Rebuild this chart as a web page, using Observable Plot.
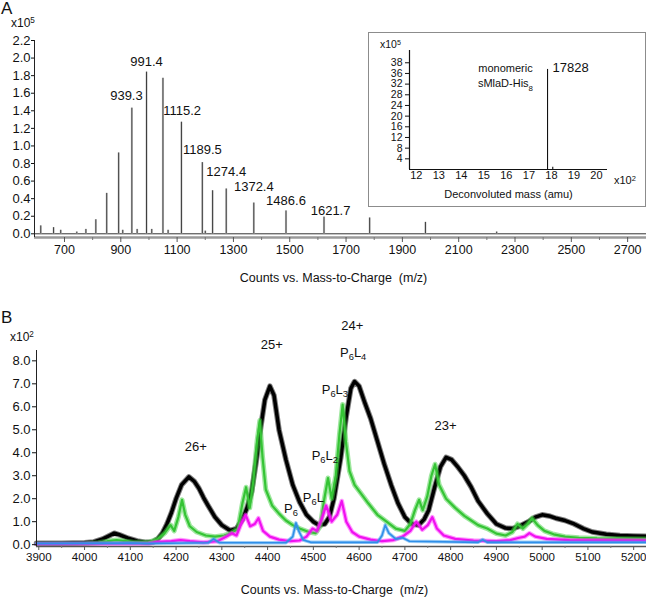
<!DOCTYPE html>
<html><head><meta charset="utf-8">
<script src="https://cdn.jsdelivr.net/npm/d3@7"></script>
<script src="https://cdn.jsdelivr.net/npm/@observablehq/plot@0.6"></script>
<style>
html,body{margin:0;padding:0;background:#fff;}
#wrap{position:relative;width:646px;height:600px;overflow:hidden;font-family:"Liberation Sans",Arial,Helvetica,sans-serif;color:#111;}
.panel{position:absolute;left:0;}
.lbl{position:absolute;line-height:1.1;white-space:nowrap;}
.sup{position:relative;top:-0.45em;font-size:0.68em;}
#inset{position:absolute;left:368px;top:32px;width:276px;height:173px;border:1px solid #8c8c8c;background:#fff;}
</style></head><body>
<div id="wrap">
  <div id="pa" class="panel" style="top:0"></div>
  <div id="pb" class="panel" style="top:300px"></div>
  <div id="inset"></div>
  <div class="lbl" style="left:1px;top:0px;font-size:17px">A</div>
  <div class="lbl" style="left:11px;top:17px;font-size:12px">x10<span class="sup">5</span></div>
  <div class="lbl" style="left:380px;top:39px;font-size:10.5px">x10<span class="sup">5</span></div>
  <div class="lbl" style="left:614px;top:174px;font-size:11px">x10<span class="sup">2</span></div>
  <div class="lbl" style="left:1px;top:309px;font-size:17px">B</div>
  <div class="lbl" style="left:10px;top:331px;font-size:12px">x10<span class="sup">2</span></div>
</div>
<script>
// ---------- Panel A data (intensity in units of 10^5 counts) ----------
const spectrumMz = [615.8, 661.3, 686.7, 743.8, 776.1, 811.4, 850.0, 892.4, 907, 939.3, 958, 991.4, 1010, 1049.7, 1068, 1115.3, 1189.5, 1200, 1226, 1274.4, 1372.4, 1486.7, 1621.7, 1783.8, 1981.9, 2235];
const spectrumIntensity = [0.09, 0.07, 0.04, 0.02, 0.05, 0.16, 0.46, 0.92, 0.04, 1.43, 0.05, 1.84, 0.05, 1.77, 0.04, 1.27, 0.81, 0.03, 0.49, 0.51, 0.35, 0.26, 0.19, 0.18, 0.13, 0.02];
const peakLabelText = ["939.3", "991.4", "1115.2", "1189.5", "1274.4", "1372.4", "1486.6", "1621.7"];
// label anchor points (m/z, intensity) where each label is centred
const peakLabelMz = [920, 991.4, 1118, 1189.5, 1274.4, 1372.4, 1486.6, 1645];
const peakLabelIntensity = [1.573, 1.96, 1.403, 0.956, 0.70, 0.53, 0.37, 0.265];
const xTicksA = [700, 900, 1100, 1300, 1500, 1700, 1900, 2100, 2300, 2500, 2700];
const xMinorA = [800, 1000, 1200, 1400, 1600, 1800, 2000, 2200, 2400, 2600];
const yTicksA = [0, 0.2, 0.4, 0.6, 0.8, 1.0, 1.2, 1.4, 1.6, 1.8, 2.0, 2.2];
const titleX = "Counts vs. Mass-to-Charge \u00a0(m/z)";

// ---------- Inset data (mass axis in units of the x10^2 axis, intensity x10^5) ----------
const insetMass = [17.828, 18.06];
const insetIntensity = [37.5, 0.8];
const insetXTicks = [12, 13, 14, 15, 16, 17, 18, 19, 20];
const insetYTicks = [4, 8, 12, 16, 20, 24, 28, 32, 36, 40];
const insetYTickLabels = ["4", "8", "12", "16", "20", "24", "28", "32", "36", "38"];

// ---------- Panel B data (counts in units of 10^2) ----------
const blackMz = [3895, 3950, 4000, 4020, 4040, 4055, 4065, 4078, 4095, 4115, 4135, 4150, 4160, 4170, 4180, 4190, 4200, 4212, 4228, 4240, 4250, 4260, 4270, 4285, 4300, 4318, 4332, 4345, 4355, 4365, 4375, 4385, 4394, 4405, 4414, 4425, 4440, 4455, 4470, 4485, 4500, 4512, 4525, 4535, 4545, 4560, 4572, 4582, 4590, 4600, 4612, 4625, 4640, 4655, 4670, 4685, 4700, 4715, 4730, 4742, 4752, 4765, 4778, 4790, 4802, 4815, 4830, 4845, 4860, 4880, 4900, 4920, 4935, 4950, 4970, 4985, 5000, 5015, 5030, 5050, 5070, 5090, 5110, 5140, 5170, 5200, 5228];
const blackCounts = [0.06, 0.06, 0.08, 0.12, 0.25, 0.4, 0.5, 0.42, 0.28, 0.16, 0.1, 0.12, 0.25, 0.5, 0.9, 1.4, 2.0, 2.6, 2.95, 2.75, 2.45, 2.05, 1.7, 1.2, 0.85, 0.62, 0.7, 1.1, 1.6, 2.3, 3.6, 5.1, 6.3, 6.9, 6.5, 5.0, 3.7, 2.6, 1.85, 1.3, 1.0, 0.85, 0.9, 1.2, 2.0, 3.8, 5.6, 6.8, 7.1, 6.9, 6.2, 5.5, 4.5, 3.5, 2.6, 1.8, 1.2, 0.9, 0.85, 1.1, 1.5, 2.5, 3.4, 3.8, 3.7, 3.4, 3.0, 2.5, 1.9, 1.35, 0.9, 0.72, 0.7, 0.8, 1.0, 1.2, 1.3, 1.25, 1.15, 1.05, 0.9, 0.7, 0.55, 0.45, 0.4, 0.38, 0.36];
const greenMz = [3895, 4000, 4030, 4050, 4070, 4090, 4110, 4140, 4160, 4175, 4188, 4196, 4205, 4213, 4220, 4230, 4245, 4265, 4285, 4305, 4320, 4335, 4345, 4353, 4361, 4369, 4377, 4383, 4389, 4396, 4410, 4425, 4440, 4455, 4470, 4490, 4505, 4515, 4524, 4532, 4540, 4549, 4557, 4564, 4571, 4579, 4590, 4605, 4620, 4640, 4660, 4680, 4700, 4712, 4722, 4731, 4739, 4749, 4758, 4766, 4775, 4790, 4810, 4830, 4845, 4860, 4880, 4900, 4920, 4935, 4946, 4958, 4968, 4978, 4990, 5005, 5025, 5050, 5080, 5120, 5160, 5228];
const greenCounts = [0.03, 0.04, 0.08, 0.15, 0.2, 0.15, 0.1, 0.1, 0.25, 0.5, 0.85, 0.6, 1.2, 1.95, 1.3, 0.8, 0.55, 0.4, 0.35, 0.4, 0.5, 0.7, 1.8, 2.5, 1.6, 2.8, 4.5, 5.4, 3.8, 2.4, 1.7, 1.35, 1.05, 0.85, 0.7, 0.55, 0.5, 0.8, 2.0, 2.9, 2.0, 3.0, 4.8, 6.1, 4.5, 3.2, 2.6, 2.2, 1.8, 1.3, 1.0, 0.7, 0.6, 0.9, 1.5, 1.95, 1.5, 2.1, 3.0, 3.5, 2.6, 2.0, 1.6, 1.25, 1.05, 0.85, 0.7, 0.48, 0.4, 0.55, 0.9, 0.7, 0.9, 1.15, 0.85, 0.6, 0.45, 0.35, 0.3, 0.27, 0.26, 0.25];
const magentaMz = [3895, 4140, 4160, 4190, 4210, 4230, 4260, 4290, 4310, 4322, 4332, 4342, 4352, 4362, 4372, 4380, 4390, 4405, 4425, 4450, 4470, 4485, 4498, 4508, 4518, 4528, 4540, 4552, 4562, 4572, 4585, 4600, 4625, 4650, 4675, 4695, 4712, 4725, 4738, 4750, 4760, 4770, 4785, 4810, 4850, 4900, 4930, 4950, 4962, 4972, 4985, 5010, 5060, 5120, 5228];
const magentaCounts = [0.03, 0.05, 0.12, 0.15, 0.2, 0.15, 0.1, 0.15, 0.35, 0.5, 0.4, 0.9, 1.3, 0.8, 0.9, 1.15, 0.6, 0.35, 0.22, 0.15, 0.18, 0.35, 0.7, 0.6, 1.1, 1.7, 1.0, 1.3, 1.9, 1.0, 0.55, 0.35, 0.22, 0.15, 0.2, 0.35, 0.6, 1.0, 0.65, 0.85, 1.2, 0.7, 0.4, 0.25, 0.18, 0.15, 0.2, 0.3, 0.35, 0.5, 0.35, 0.25, 0.2, 0.19, 0.18];
const blueMz = [3895, 4100, 4140, 4270, 4282, 4295, 4440, 4455, 4462, 4468, 4478, 4495, 4640, 4650, 4657, 4665, 4680, 4695, 4710, 4860, 4870, 4880, 5100, 5228];
const blueCounts = [0.05, 0.07, 0.05, 0.08, 0.25, 0.08, 0.08, 0.35, 0.95, 0.6, 0.2, 0.1, 0.1, 0.4, 0.85, 0.5, 0.25, 0.3, 0.15, 0.1, 0.22, 0.1, 0.1, 0.1];
const annotText = ["26+", "25+", "24+", "P_6L_4", "P_6L_3", "P_6L_2", "P_6L", "P_6", "23+"];
const annotMz = [4243, 4409, 4585, 4587, 4547, 4525, 4500, 4451, 4789];
const annotCounts = [4.24, 8.7, 9.53, 8.37, 6.74, 3.88, 2.04, 1.57, 5.19];
const xTicksB = [3900, 4000, 4100, 4200, 4300, 4400, 4500, 4600, 4700, 4800, 4900, 5000, 5100, 5200];
const xMinorB = [3950, 4050, 4150, 4250, 4350, 4450, 4550, 4650, 4750, 4850, 4950, 5050, 5150];
const yTicksB = [0, 1, 2, 3, 4, 5, 6, 7, 8];

const FONT = '"Liberation Sans", Arial, Helvetica, sans-serif';

function subscripts(svg) {
  const NS = "http://www.w3.org/2000/svg";
  d3.select(svg).selectAll("text").each(function () {
    const t = this.textContent;
    if (!t.includes("_")) return;
    const parts = t.split(/(_\d)/).filter(s => s.length);
    this.textContent = "";
    let down = false;
    for (const p of parts) {
      const ts = document.createElementNS(NS, "tspan");
      if (p[0] === "_") {
        ts.textContent = p.slice(1);
        ts.setAttribute("font-size", "0.72em");
        if (!down) ts.setAttribute("dy", "3.5");
        down = true;
      } else {
        ts.textContent = p;
        if (down) ts.setAttribute("dy", "-3.5");
        down = false;
      }
      this.appendChild(ts);
    }
  });
}

// ---------- Panel A ----------
const peaksA = spectrumMz.map((mz, i) => ({mz, v: spectrumIntensity[i]}));
const labelsA = peakLabelText.map((t, i) => ({t, mz: peakLabelMz[i], v: peakLabelIntensity[i]}));
const xA0 = 593.5, xA1 = 2767, yA0 = -0.042;
const plotA = Plot.plot({
  width: 646, height: 300,
  marginLeft: 34, marginRight: 0, marginTop: 40, marginBottom: 63,
  style: {fontFamily: FONT, fontSize: "12.5px", color: "#111", background: "transparent", overflow: "visible"},
  x: {domain: [xA0, xA1]},
  y: {domain: [yA0, 2.2]},
  marks: [
    Plot.ruleY([0], {stroke: "#333", strokeWidth: 1}),
    Plot.ruleX(peaksA, {x: "mz", y1: 0, y2: "v", stroke: "#cfcfcf", strokeWidth: 2.2}),
    Plot.ruleX(peaksA, {x: "mz", y1: 0, y2: "v", stroke: "#3a3a3a", strokeWidth: 1}),
    Plot.ruleY([yA0], {stroke: "#9a9a9a", strokeWidth: 2.5}),
    Plot.ruleX([xA0], {stroke: "#222", strokeWidth: 1}),
    Plot.axisX({ticks: xTicksA, tickSize: 5, tickPadding: 3, tickFormat: d => String(d), label: null, stroke: "#555"}),
    Plot.axisX({ticks: xMinorA, tickSize: 3, tickFormat: () => "", label: null, stroke: "#777"}),
    Plot.axisY({ticks: yTicksA, tickSize: 3, tickPadding: 1, tickFormat: d3.format(".1f"), label: null, fontSize: 13}),
    Plot.text(labelsA, {x: "mz", y: "v", text: "t", fontSize: 13, fill: "#111"}),
    Plot.text([titleX], {frameAnchor: "bottom", dy: 44, dx: -7, fontSize: 12.5, fill: "#111"})
  ]
});
document.getElementById("pa").appendChild(plotA);

// ---------- Inset ----------
const insetPeaks = insetMass.map((m, i) => ({m, v: insetIntensity[i]}));
const xI0 = 11.7, xI1 = 20.49;
const plotI = Plot.plot({
  width: 276, height: 173,
  marginLeft: 40, marginRight: 38, marginTop: 17, marginBottom: 37,
  style: {fontFamily: FONT, fontSize: "10.5px", color: "#111", background: "transparent", overflow: "visible"},
  x: {domain: [xI0, xI1]},
  y: {domain: [0, 44.6]},
  marks: [
    Plot.ruleX(insetPeaks, {x: "m", y1: 0, y2: "v", stroke: "#111", strokeWidth: 1.1}),
    Plot.ruleY([0], {stroke: "#111", strokeWidth: 1.2}),
    Plot.ruleX([xI0], {stroke: "#111", strokeWidth: 1.2}),
    Plot.axisX({ticks: insetXTicks, tickSize: 0, tickPadding: 2, tickFormat: d => String(d), label: null, fontSize: 11}),
    Plot.axisY({ticks: insetYTicks, tickSize: 4, tickPadding: 3, tickFormat: d => insetYTickLabels[insetYTicks.indexOf(d)], label: null}),
    Plot.text(["Deconvoluted mass (amu)"], {frameAnchor: "bottom", dy: 28, fontSize: 11, fill: "#111"}),
    Plot.text(["monomeric"], {x: [15.96], y: [37.9], fontSize: 11, fill: "#111"}),
    Plot.text(["sMlaD-His_8"], {x: [15.96], y: [32.2], fontSize: 11, fill: "#111"}),
    Plot.text(["17828"], {x: [insetMass[0]], y: [insetIntensity[0]], dx: 5, dy: -2, textAnchor: "start", fontSize: 13, fill: "#111"})
  ]
});
subscripts(plotI);
document.getElementById("inset").appendChild(plotI);

// ---------- Panel B ----------
const mk = (mzs, vals) => mzs.map((mz, i) => ({mz, v: vals[i]}));
const blackData = mk(blackMz, blackCounts);
const greenData = mk(greenMz, greenCounts);
const magentaData = mk(magentaMz, magentaCounts);
const blueData = mk(blueMz, blueCounts);
const annot = annotText.map((t, i) => ({t, mz: annotMz[i], v: annotCounts[i]}));
const xB0 = 3895, xB1 = 5228, yB0 = -0.08;
const lineOpts = {x: "mz", y: "v", strokeLinejoin: "round", strokeLinecap: "round"};
const plotB = Plot.plot({
  width: 646, height: 300,
  marginLeft: 36, marginRight: 0, marginTop: 50, marginBottom: 54,
  style: {fontFamily: FONT, fontSize: "12.5px", color: "#111", background: "transparent", overflow: "visible"},
  x: {domain: [xB0, xB1]},
  y: {domain: [yB0, 8.45]},
  marks: [
    Plot.line(blackData, {...lineOpts, stroke: "#000", strokeWidth: 5.5, strokeOpacity: 0.5}),
    Plot.line(blackData, {...lineOpts, stroke: "#000", strokeWidth: 3.5}),
    Plot.line(greenData, {...lineOpts, stroke: "#3fcf3f", strokeWidth: 5, strokeOpacity: 0.5}),
    Plot.line(greenData, {...lineOpts, stroke: "#35c435", strokeWidth: 2.2}),
    Plot.line(magentaData, {...lineOpts, stroke: "#ff30ff", strokeWidth: 4.5, strokeOpacity: 0.5}),
    Plot.line(magentaData, {...lineOpts, stroke: "#f010f0", strokeWidth: 2.2}),
    Plot.line(blueData, {...lineOpts, stroke: "#3a9cf0", strokeWidth: 3.5, strokeOpacity: 0.5}),
    Plot.line(blueData, {...lineOpts, stroke: "#2f8fe8", strokeWidth: 1.6}),
    Plot.ruleY([yB0], {stroke: "#555", strokeWidth: 1.5}),
    Plot.ruleX([xB0], {stroke: "#222", strokeWidth: 1}),
    Plot.axisX({ticks: xTicksB, tickSize: 4, tickPadding: 2, tickFormat: d => String(d), label: null, stroke: "#555", fontSize: 11.5}),
    Plot.axisX({ticks: xMinorB, tickSize: 2, tickFormat: () => "", label: null, stroke: "#777"}),
    Plot.axisY({ticks: yTicksB, tickSize: 4, tickPadding: 2, tickFormat: d3.format(".1f"), label: null, fontSize: 13}),
    Plot.text(annot, {x: "mz", y: "v", text: "t", fontSize: 13, fill: "#111"}),
    Plot.text([titleX], {frameAnchor: "bottom", dy: 47, dx: -7, fontSize: 12.5, fill: "#111"})
  ]
});
subscripts(plotB);
document.getElementById("pb").appendChild(plotB);
</script>
</body></html>
